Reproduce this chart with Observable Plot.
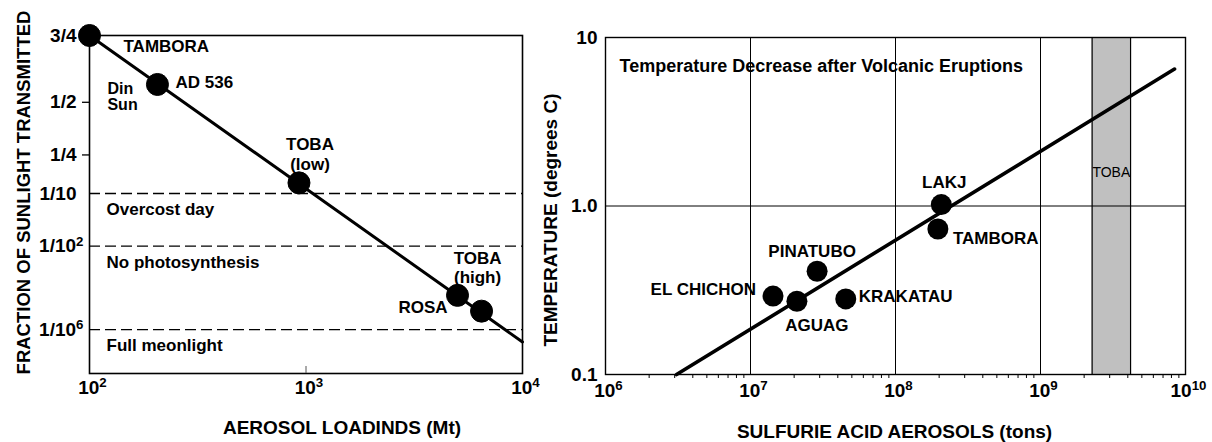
<!DOCTYPE html>
<html><head><meta charset="utf-8">
<script src="https://cdn.jsdelivr.net/npm/d3@7"></script>
<script src="https://cdn.jsdelivr.net/npm/@observablehq/plot@0.6"></script>
<style>
body{margin:0;background:#fff;}
#wrap{position:relative;width:1212px;height:442px;overflow:hidden;background:#fff;}
#left{position:absolute;left:0;top:0;}
#right{position:absolute;left:540px;top:0;}
</style></head><body>
<div id="wrap"><div id="left"></div><div id="right"></div></div>
<script>
// ---------- Left chart data ----------
const leftNames = ["TAMBORA", "AD 536", "TOBA\n(low)", "ROSA", "TOBA\n(high)"];
const leftLoad = [100, 206, 928, 5010, 6470];               // aerosol loading, Mt
const leftFrac = [0.75, 0.578, 0.135, 1.5e-4, 1.96e-5];     // fraction of sunlight transmitted
const leftFitLoad = [100, 10000];
const leftFitFrac = [0.75, 8.6e-8];
const yTickFracs = [0.75, 0.5, 0.25, 0.1, 1e-2, 1e-6];
const yTickLabels = ["3/4", "1/2", "1/4", "1/10", "1/10^2", "1/10^6"];
const yTickMarkFracs = [0.5, 0.25];
const thresholdFracs = [0.1, 1e-2, 1e-6];
const thresholdLabels = ["Overcost day", "No photosynthesis", "Full meonlight"];
const xTicksLeft = [100, 1000, 10000];
const xTickLabelsLeft = ["10^2", "10^3", "10^4"];
const leftDomainFrac = [2e-11, 0.75];

// ---------- Right chart data ----------
const rightNames = ["LAKJ", "TAMBORA", "PINATUBO", "EL CHICHON", "AGUAG", "KRAKATAU"];
const rightTons = [2.07e8, 1.96e8, 2.88e7, 1.43e7, 2.09e7, 4.54e7];
const rightTemp = [1.02, 0.73, 0.41, 0.292, 0.272, 0.281];
const rightFitTons = [3.09e6, 8.4e9];
const rightFitTemp = [0.1, 6.5];
const tobaRange = [2.27e9, 4.18e9];
const gridTons = [1e7, 1e8, 1e9];
const gridTemp = [1];
const xTicksRight = [1e6, 1e7, 1e8, 1e9, 1e10];
const xTickLabelsRight = ["10^6", "10^7", "10^8", "10^9", "10^10"];
const yTicksRight = [0.1, 1, 10];
const yTickLabelsRight = ["0.1", "1.0", "10"];
const minorMult = [2, 3, 4, 5, 6, 7, 8, 9];

const FONT = "'Liberation Sans', Arial, Helvetica, sans-serif";
const tau = f => -Math.log(f);   // optical depth; the axis is logarithmic in it
const lookup = (vals, labs) => d => labs[vals.findIndex(v => Math.abs(v - d) / Math.abs(v) < 1e-9)] ?? "";

function supify(svg) {
  svg.querySelectorAll("text, tspan").forEach(el => {
    if (el.children.length) return;
    const t = el.textContent;
    const k = t.indexOf("^");
    if (k < 0) return;
    el.textContent = t.slice(0, k);
    const ts = document.createElementNS("http://www.w3.org/2000/svg", "tspan");
    ts.setAttribute("dy", "-0.5em");
    ts.style.fontSize = "70%";
    ts.textContent = t.slice(k + 1);
    el.appendChild(ts);
  });
}

// ---------- Left chart ----------
const L = i => ({x: leftLoad[i], y: tau(leftFrac[i]), t: leftNames[i]});
const leftLabel = (i, o) => Plot.text([L(i)], {x: "x", y: "y", text: "t", fontSize: 17, fontWeight: "bold", lineHeight: 1.15, fill: "black", ...o});
const plainIdx = yTickLabels.map((s, i) => i).filter(i => !yTickLabels[i].includes("^"));
const supIdx = yTickLabels.map((s, i) => i).filter(i => yTickLabels[i].includes("^"));

const left = Plot.plot({
  width: 540, height: 442,
  marginLeft: 89, marginRight: 18, marginTop: 35, marginBottom: 69,
  style: {fontFamily: FONT, fontSize: "17px", color: "black", background: "white", overflow: "visible"},
  x: {type: "log", domain: [100, 10000], axis: null},
  y: {type: "log", domain: [tau(leftDomainFrac[0]), tau(leftDomainFrac[1])], axis: null},
  marks: [
    Plot.ruleY(thresholdFracs, {y: tau, stroke: "black", strokeWidth: 1.3, strokeDasharray: "11,5"}),
    Plot.text(thresholdFracs, {y: tau, text: (d, i) => thresholdLabels[i], frameAnchor: "left", dx: 17, dy: 16, textAnchor: "start", lineAnchor: "middle", fontSize: 17, fontWeight: "bold", fill: "black"}),
    Plot.frame({stroke: "black", strokeWidth: 1.6}),
    Plot.ruleX([1000], {stroke: "#555", strokeWidth: 1, insetTop: 331}),
    Plot.ruleY(yTickMarkFracs, {y: tau, stroke: "black", strokeWidth: 1.3, insetLeft: -7, insetRight: 433}),
    Plot.line(leftFitLoad.map((x, i) => ({x, y: tau(leftFitFrac[i])})), {x: "x", y: "y", stroke: "black", strokeWidth: 3}),
    Plot.dot(leftLoad.map((x, i) => L(i)), {x: "x", y: "y", r: 11, fill: "black", stroke: "black", strokeWidth: 1}),
    leftLabel(0, {dx: 34, dy: 10, textAnchor: "start"}),
    leftLabel(1, {dx: 18, dy: -3, textAnchor: "start"}),
    Plot.text([L(1)], {x: "x", y: "y", text: () => "Din\nSun", dx: -50, dy: 12, textAnchor: "start", fontSize: 16, fontWeight: "bold", lineHeight: 1.0, fill: "black"}),
    leftLabel(2, {dx: 11, dy: -29, textAnchor: "middle"}),
    leftLabel(3, {dx: -10, dy: 11, textAnchor: "end"}),
    leftLabel(4, {dx: -4, dy: -44, textAnchor: "middle"}),
    Plot.text(plainIdx, {y: i => tau(yTickFracs[i]), text: i => yTickLabels[i], frameAnchor: "left", textAnchor: "end", lineAnchor: "middle", dx: -13, fontSize: 19, fontWeight: "bold", fill: "black"}),
    Plot.text(supIdx, {y: i => tau(yTickFracs[i]), text: i => yTickLabels[i], frameAnchor: "left", textAnchor: "end", lineAnchor: "middle", dx: -6, fontSize: 19, fontWeight: "bold", fill: "black"}),
    Plot.axisX(xTicksLeft, {anchor: "bottom", tickSize: 0, tickPadding: 7, dx: 3, tickFormat: lookup(xTicksLeft, xTickLabelsLeft), label: null, fontSize: 19, fontWeight: "bold", fill: "black"}),
    Plot.text(["FRACTION OF SUNLIGHT TRANSMITTED"], {text: d => d, frameAnchor: "left", textAnchor: "middle", lineAnchor: "middle", rotate: -90, dx: -65, dy: -12, fontSize: 18.5, fontWeight: "bold", fill: "black"}),
    Plot.text(["AEROSOL LOADINDS (Mt)"], {text: d => d, frameAnchor: "bottom", textAnchor: "middle", lineAnchor: "middle", dx: 36, dy: 54, fontSize: 19, fontWeight: "bold", fill: "black"})
  ]
});
supify(left);
document.getElementById("left").appendChild(left);

// ---------- Right chart ----------
const R = i => ({x: rightTons[i], y: rightTemp[i], t: rightNames[i]});
const rightLabel = (i, o) => Plot.text([R(i)], {x: "x", y: "y", text: "t", fontSize: 17, fontWeight: "bold", fill: "black", ...o});
const minorTicks = xTicksRight.slice(0, -1).flatMap(d => minorMult.map(m => d * m));

const right = Plot.plot({
  width: 672, height: 442,
  marginLeft: 65, marginRight: 27, marginTop: 37, marginBottom: 68,
  style: {fontFamily: FONT, fontSize: "17px", color: "black", background: "white", overflow: "visible"},
  x: {type: "log", domain: [1e6, 1e10], axis: null},
  y: {type: "log", domain: [0.1, 10], axis: null},
  marks: [
    Plot.rect([tobaRange], {x1: d => d[0], x2: d => d[1], fill: "#c0c0c0"}),
    Plot.ruleX(tobaRange, {stroke: "black", strokeWidth: 1.2}),
    Plot.ruleX(gridTons, {stroke: "black", strokeWidth: 1}),
    Plot.ruleY(gridTemp, {stroke: "black", strokeWidth: 1}),
    Plot.frame({stroke: "black", strokeWidth: 1.4}),
    Plot.text(["TOBA"], {text: d => d, x: () => Math.sqrt(tobaRange[0] * tobaRange[1]), frameAnchor: "top", textAnchor: "middle", lineAnchor: "middle", dy: 135, fontSize: 14, fill: "black"}),
    Plot.line(rightFitTons.map((x, i) => ({x, y: rightFitTemp[i]})), {x: "x", y: "y", stroke: "black", strokeWidth: 3.6}),
    Plot.dot(rightTons.map((x, i) => R(i)), {x: "x", y: "y", r: 10.5, fill: "black"}),
    rightLabel(0, {dx: 3, dy: -22, textAnchor: "middle"}),
    rightLabel(1, {dx: 15, dy: 10, textAnchor: "start"}),
    rightLabel(2, {dx: -5, dy: -20, textAnchor: "middle"}),
    rightLabel(3, {dx: -17, dy: -7, textAnchor: "end"}),
    rightLabel(4, {dx: 20, dy: 24, textAnchor: "middle"}),
    rightLabel(5, {dx: 13, dy: -2, textAnchor: "start"}),
    Plot.text(["Temperature Decrease after Volcanic Eruptions"], {text: d => d, frameAnchor: "top-left", dx: 14, dy: 29, lineAnchor: "middle", textAnchor: "start", fontSize: 18, fontWeight: "bold", fill: "black"}),
    Plot.axisX(minorTicks, {anchor: "bottom", tickSize: 4, tickFormat: () => "", label: null, stroke: "black", strokeWidth: 1}),
    Plot.axisX(xTicksRight, {anchor: "bottom", tickSize: 0, tickPadding: 9, dx: 3, tickFormat: lookup(xTicksRight, xTickLabelsRight), label: null, fontSize: 19, fontWeight: "bold", fill: "black"}),
    Plot.axisY(yTicksRight, {anchor: "left", tickSize: 0, tickPadding: 8, tickFormat: lookup(yTicksRight, yTickLabelsRight), label: null, fontSize: 19, fontWeight: "bold", fill: "black"}),
    Plot.text(["TEMPERATURE (degrees C)"], {text: d => d, frameAnchor: "left", textAnchor: "middle", lineAnchor: "middle", rotate: -90, dx: -55, dy: 14, fontSize: 19, fontWeight: "bold", fill: "black"}),
    Plot.text(["SULFURIE ACID AEROSOLS (tons)"], {text: d => d, frameAnchor: "bottom", textAnchor: "middle", lineAnchor: "middle", dx: -1, dy: 57, fontSize: 19, fontWeight: "bold", fill: "black"})
  ]
});
supify(right);
document.getElementById("right").appendChild(right);
</script>
</body></html>
